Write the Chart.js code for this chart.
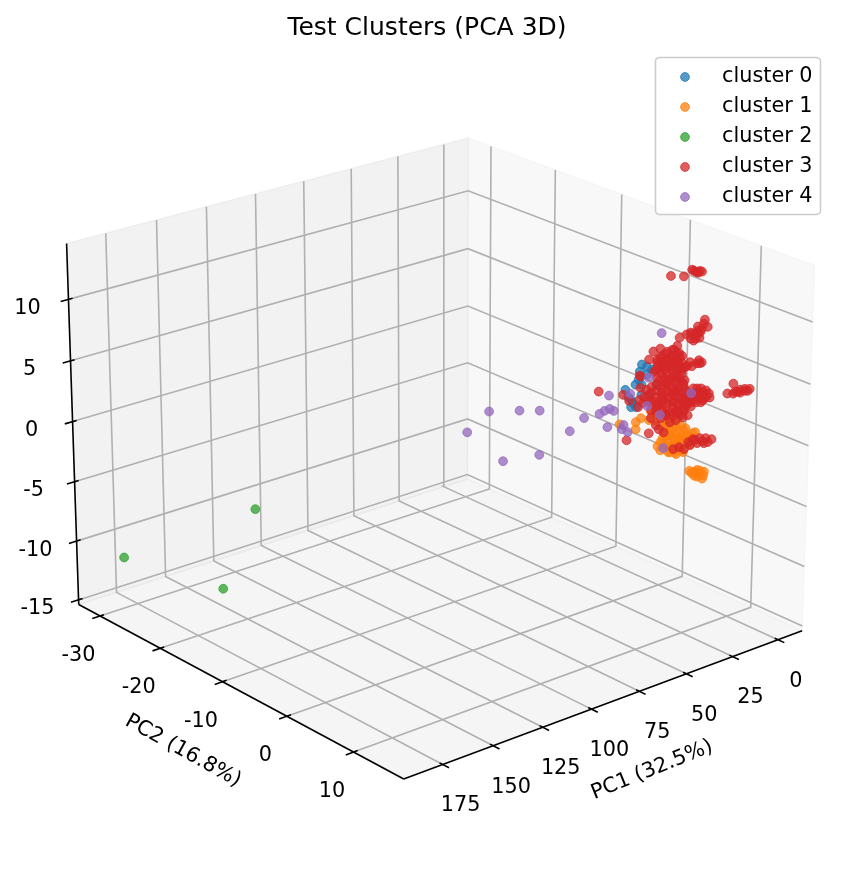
<!DOCTYPE html>
<html>
<head>
<meta charset="utf-8">
<title>Test Clusters (PCA 3D)</title>
<script src="https://cdn.jsdelivr.net/npm/chart.js@4/dist/chart.umd.min.js"></script>
<style>
  html, body { margin: 0; padding: 0; background: #ffffff; }
  canvas { display: block; }
</style>
</head>
<body>
<canvas id="pcaChart" width="846" height="870"></canvas>
<script>
// --- Data as [PC1, PC2, PC3] ---
// depth along the view can't be read from a flat picture, so PC2 is a best guess
const clusterNames = ['cluster 0', 'cluster 1', 'cluster 2', 'cluster 3', 'cluster 4'];
const clusterColors = ['31, 119, 180', '255, 127, 14', '44, 160, 44', '214, 39, 40', '148, 103, 189'];

const pc1Ticks = [0, 25, 50, 75, 100, 125, 150, 175];
const pc2Ticks = [-30, -20, -10, 0, 10];
const pc3Ticks = [-15, -10, -5, 0, 5, 10];

const pc1Limits = [-13.5, 194];
const pc2Limits = [-33.6, 17.3];
const pc3Limits = [-15.4, 14.5];

const cluster0 = [
    [49.2, 10, 7.88], [50.8, 10, 6.74], [50.3, 10, 7.36], [46.5, 10, 6.94], [43.9, 10, 7.21],
    [57.7, 10, 6.27], [56.1, 10, 5.62], [54.5, 10, 4.73], [51.9, 10, 4.60], [53.5, 10, 5.01],
    [49.2, 10, 5.45], [41.2, 10, 5.86], [49.2, 10, 6.26], [44.9, 10, 5.24], [54.5, 10, 5.30],
    [46.5, 10, 7.59], [52.4, 10, 6.42]
];

const cluster1 = [
    [40.1, 10, 3.94], [38.6, 10, 3.94], [37.0, 10, 3.46], [49.2, 10, 3.58], [51.9, 10, 3.39],
    [51.9, 10, 2.82], [60.4, 10, 3.64], [29.5, 10, 2.60], [27.9, 10, 1.96], [31.6, 10, 1.90],
    [27.9, 10, 1.31], [33.2, 10, 1.41], [29.5, 10, 0.82], [34.8, 10, 1.09], [38.6, 10, 1.10],
    [40.1, 10, 0.86], [26.3, 10, 0.50], [21.5, 10, 0.99], [24.2, 10, 0.80], [30.6, 10, -0.10],
    [34.3, 10, 0.49], [27.9, 10, 0.10], [38.6, 10, 3.13], [33.2, 10, 2.47], [35.9, 10, 2.19],
    [30.6, 10, 1.36], [22.6, 10, 0.15], [35.9, 10, 1.54], [35.9, 10, 2.35], [33.2, 10, 1.82],
    [30.6, 10, 2.09], [27.9, 10, 0.75], [32.2, 10, 0.55], [35.9, 10, 0.73], [30.6, 10, 0.47],
    [25.2, 10, 0.93], [38.6, 10, 3.70], [43.9, 10, 3.81], [34.3, 10, 2.84], [41.2, 10, 3.42],
    [27.9, 10, -0.07], [33.2, 10, 0.03], [44.9, 10, 3.21], [25.2, 10, 1.58], [29.0, 10, 0.96],
    [32.2, 10, 1.12], [37.5, 10, 1.38], [26.3, 10, 1.48], [30.0, 10, 2.87], [38.6, 10, 2.48],
    [42.3, 10, 3.08], [38.6, 10, 0.45], [34.3, 10, 0.08], [30.0, 10, -0.29], [26.3, 10, -0.31],
    [22.6, 10, 0.80], [19.9, 10, 0.99],
    [21.5, 10, -2.25], [18.3, 10, -2.17], [14.6, 10, -2.51], [19.9, 10, -2.57], [15.6, 10, -3.03],
    [17.3, 10, -2.62], [18.8, 10, -2.38], [22.6, 10, -2.04], [15.1, 10, -2.81], [20.4, 10, -2.22],
    [16.7, 10, -2.33], [18.3, 10, -2.73]
];

const cluster2 = [
    [187.0, -28, -10.3], [160.8, -15, -4.32], [177.4, -15, -10.0]
];

const cluster3 = [
    [34.8, 10, 14.24], [27.9, 10, 13.90], [23.6, 10, 14.24], [22.6, 10, 14.11], [21.0, 10, 13.95],
    [19.4, 10, 13.95], [20.4, 10, 13.85], [21.5, 10, 13.98], [18.3, 10, 13.85],
    [16.1, 10, 9.92], [14.5, 10, 9.27], [17.7, 10, 9.27], [19.8, 10, 9.22], [20.9, 10, 8.62],
    [25.7, 10, 9.18], [22.5, 10, 9.10], [19.3, 10, 8.94], [22.0, 10, 8.51], [18.8, 10, 8.59],
    [16.6, 10, 9.62], [19.8, 10, 9.54], [23.6, 10, 8.75], [20.9, 10, 9.02], [18.3, 10, 9.06],
    [23.6, 10, 9.23],
    [29.5, 10, 9.09], [43.3, 10, 8.64], [39.6, 10, 8.70], [35.9, 10, 8.27], [30.6, 10, 8.50],
    [33.2, 10, 8.30], [29.5, 10, 7.87], [34.8, 10, 7.74], [37.5, 10, 7.46], [41.2, 10, 7.64],
    [31.6, 10, 7.25], [27.9, 10, 6.99], [26.3, 10, 6.59], [34.3, 10, 6.98], [39.6, 10, 6.99],
    [30.6, 10, 6.55], [23.6, 10, 6.85], [19.9, 10, 6.59], [17.3, 10, 6.54], [18.3, 10, 6.51],
    [45.5, 10, 8.10], [50.3, 10, 7.04], [38.6, 10, 8.08], [33.2, 10, 7.82], [27.9, 10, 7.56],
    [41.2, 10, 7.88], [35.9, 10, 7.62], [30.6, 10, 7.36], [38.6, 10, 7.27], [33.2, 10, 7.01],
    [27.9, 10, 6.59], [22.6, 10, 6.48], [42.8, 10, 6.99], [35.9, 10, 6.49], [41.2, 10, 6.42],
    [35.9, 10, 5.84], [30.6, 10, 6.07], [26.3, 10, 5.53], [39.6, 10, 6.18], [18.8, 10, 6.78],
    [32.2, 10, 8.25], [37.0, 10, 8.16], [30.6, 10, 7.85], [39.6, 10, 7.97], [32.2, 10, 7.61],
    [29.0, 10, 7.45], [38.6, 10, 7.59], [34.3, 10, 7.38], [30.0, 10, 7.17], [40.7, 10, 7.38],
    [35.9, 10, 7.14], [30.6, 10, 6.88], [25.2, 10, 6.61], [41.7, 10, 7.10], [37.0, 10, 6.86],
    [33.2, 10, 6.68], [27.9, 10, 6.42], [38.6, 10, 6.62], [32.2, 10, 6.31], [27.9, 10, 6.10],
    [37.0, 10, 6.21], [33.2, 10, 6.03], [29.0, 10, 5.82],
    [34.8, 10, 5.95], [31.6, 10, 5.79], [27.9, 10, 5.45], [38.6, 10, 5.73], [34.3, 10, 5.35],
    [29.5, 10, 5.03], [43.9, 10, 5.83], [45.5, 10, 5.27], [41.2, 10, 4.88], [37.0, 10, 4.84],
    [32.2, 10, 4.61], [27.9, 10, 4.23], [23.6, 10, 3.93], [18.8, 10, 3.78], [14.6, 10, 3.57],
    [16.2, 10, 3.41], [19.9, 10, 3.43], [24.2, 10, 3.56], [29.5, 10, 3.82], [34.8, 10, 4.09],
    [40.1, 10, 4.18], [45.5, 10, 4.70], [50.3, 10, 5.09], [50.8, 10, 4.55], [18.3, 10, 4.16],
    [46.5, 10, 5.72], [41.2, 10, 5.45], [35.9, 10, 5.11], [30.6, 10, 4.85], [25.2, 10, 4.58],
    [21.5, 10, 4.24], [15.7, 10, 4.03], [12.5, 10, 3.46], [48.1, 10, 4.75], [42.8, 10, 4.64],
    [37.5, 10, 4.46], [32.2, 10, 4.12], [26.8, 10, 3.93], [21.5, 10, 3.67], [43.9, 10, 3.97],
    [32.2, 10, 3.55], [26.8, 10, 3.28], [22.6, 10, 3.23],
    [41.2, 10, 5.94], [35.9, 10, 5.68], [30.6, 10, 5.42], [26.8, 10, 5.23], [38.6, 10, 5.48],
    [32.2, 10, 5.17], [26.3, 10, 4.88], [21.5, 10, 4.64], [17.3, 10, 4.43], [43.9, 10, 5.35],
    [38.6, 10, 5.08], [33.2, 10, 4.82], [27.9, 10, 4.56], [23.6, 10, 4.34], [17.3, 10, 4.03],
    [47.6, 10, 5.20], [38.6, 10, 4.75], [34.3, 10, 4.54], [30.0, 10, 4.33], [25.8, 10, 4.12],
    [21.5, 10, 3.91], [16.7, 10, 3.67], [43.9, 10, 4.62], [38.6, 10, 4.35], [32.2, 10, 4.04],
    [26.8, 10, 3.77], [22.6, 10, 3.56], [17.3, 10, 3.30], [41.2, 10, 4.15], [35.9, 10, 3.89],
    [29.0, 10, 3.55], [25.2, 10, 3.36], [41.2, 10, 3.75], [37.5, 10, 3.57], [30.6, 10, 3.23],
    [26.3, 10, 3.02], [35.9, 10, 3.16], [32.2, 10, 2.98], [27.9, 10, 2.77],
    [14.6, 10, 4.14], [13.0, 10, 3.82], [15.7, 10, 3.54], [19.4, 10, 4.13], [19.4, 10, 4.53],
    [71.6, 10, 6.80], [58.8, 10, 5.92], [55.6, 10, 5.28], [49.7, 10, 6.04], [49.7, 10, 6.94],
    [-0.3, 10, 3.97], [2.9, 10, 3.32], [-0.3, 10, 3.16], [-4.1, 10, 3.05], [-6.7, 10, 3.08],
    [-9.4, 10, 3.11], [-8.3, 10, 3.00], [-3.0, 10, 3.19], [-6.7, 10, 3.24], [-4.1, 10, 3.29],
    [-1.4, 10, 3.26],
    [43.9, 10, 3.32], [41.2, 10, 2.61], [39.6, 10, 2.21], [37.0, 10, 1.83], [44.9, 10, 2.15],
    [56.6, 10, 2.17], [38.6, 10, 3.05], [33.8, 10, 2.49], [30.6, 10, 2.50], [26.8, 10, 2.55],
    [24.2, 10, 2.58], [33.2, 10, 3.28], [29.5, 10, 3.09], [35.9, 10, 3.24],
    [31.6, 10, 0.20], [28.4, 10, 0.20], [25.8, 10, -0.09], [23.6, 10, 0.36], [21.0, 10, 0.48],
    [17.3, 10, 0.38], [18.8, 10, 0.05], [15.1, 10, -0.14], [13.0, 10, -0.16], [10.9, 10, -0.02],
    [14.1, 10, 0.22], [16.2, 10, 0.08], [19.9, 10, 0.35], [22.6, 10, 0.07]
];

const cluster4 = [
    [138.0, 10, 6.85], [127.2, 10, 7.94], [112.0, 10, 7.26], [101.8, 10, 6.76], [120.1, 10, 3.69],
    [101.8, 10, 3.27], [86.3, 10, 4.37], [79.0, 10, 5.06], [71.0, 10, 4.99], [68.4, 10, 5.11],
    [65.7, 10, 5.13], [63.6, 10, 4.87], [66.8, 10, 3.73], [66.2, 10, 6.22], [55.1, 10, 5.83],
    [58.3, 10, 3.48], [59.3, 10, 3.20], [56.1, 10, 2.80], [46.0, 10, 4.41], [39.1, 10, 3.34],
    [22.6, 10, 4.30], [37.0, 10, 0.55], [45.5, 10, 6.65], [39.1, 10, 9.91]
];

const clusters = [cluster0, cluster1, cluster2, cluster3, cluster4];

// --- 3D view (elev 22, azim 50), turned into positions on the flat scales ---
const MARKER_R = 4.4;
const EDGE = MARKER_R + 1; // Chart.js insets the chart area by the biggest point
const sinE = Math.sin(22 * Math.PI / 180), cosE = Math.cos(22 * Math.PI / 180);
const sinA = Math.sin(50 * Math.PI / 180), cosA = Math.cos(50 * Math.PI / 180);
const boxXY = 1.1905, boxZ = 0.8929;

function norm(value, limits, size) {
    return size * ((value - limits[0]) / (limits[1] - limits[0]) - 0.5);
}

function project(pc1, pc2, pc3) {
    const cx = norm(pc1, pc1Limits, boxXY);
    const cy = norm(pc2, pc2Limits, boxXY);
    const cz = norm(pc3, pc3Limits, boxZ);
    const xe = -sinA * cx + cosA * cy;
    const ye = -sinE * cosA * cx - sinE * sinA * cy + cosE * cz;
    const d = 10 - (cosE * cosA * cx + cosE * sinA * cy + sinE * cz);
    return { x: 438 + 4385 * xe / d, y: 439 - 4385 * ye / d };
}

const [x0, x1] = pc1Limits, [y0, y1] = pc2Limits, [z0, z1] = pc3Limits;

function path(points) {
    return points.map(p => project(p[0], p[1], p[2]));
}

const datasets = [];

function addPane(points, color) {
    datasets.push({
        data: path(points), showLine: true, fill: 'shape', backgroundColor: color,
        borderColor: color, borderWidth: 1.5, pointRadius: 0, order: 30
    });
}

function addLine(points, color, width, order) {
    datasets.push({
        data: path(points), showLine: true, fill: false, borderColor: color,
        borderWidth: width, pointRadius: 0, order: order
    });
}

addPane([[x0, y0, z0], [x1, y0, z0], [x1, y0, z1], [x0, y0, z1], [x0, y0, z0]], 'rgba(230, 230, 230, 0.5)');
addPane([[x0, y0, z0], [x0, y1, z0], [x0, y1, z1], [x0, y0, z1], [x0, y0, z0]], 'rgba(242, 242, 242, 0.5)');
addPane([[x0, y0, z0], [x1, y0, z0], [x1, y1, z0], [x0, y1, z0], [x0, y0, z0]], 'rgba(236, 236, 236, 0.5)');

const GRID = '#b0b0b0';
pc1Ticks.forEach(v => {
    addLine([[v, y1, z0], [v, y0, z0], [v, y0, z1]], GRID, 1.6, 20);
    addLine([[v, y1 - 0.45, z0], [v, y1 + 0.9, z0]], '#000000', 1.6, 15);
});
pc2Ticks.forEach(v => {
    addLine([[x1, v, z0], [x0, v, z0], [x0, v, z1]], GRID, 1.6, 20);
    addLine([[x1 - 2, v, z0], [x1 + 3.8, v, z0]], '#000000', 1.6, 15);
});
pc3Ticks.forEach(v => {
    addLine([[x1, y0, v], [x0, y0, v], [x0, y1, v]], GRID, 1.6, 20);
    addLine([[x1 - 2, y0, v], [x1 + 3.8, y0, v]], '#000000', 1.6, 15);
});

addLine([[x0, y1, z0], [x1, y1, z0]], '#000000', 1.6, 15);
addLine([[x1, y0, z0], [x1, y1, z0]], '#000000', 1.6, 15);
addLine([[x1, y0, z0], [x1, y0, z1]], '#000000', 1.6, 15);

clusters.forEach((points, i) => {
    datasets.push({
        label: clusterNames[i],
        data: path(points),
        showLine: false,
        pointRadius: MARKER_R,
        pointBorderWidth: 1,
        pointBackgroundColor: `rgba(${clusterColors[i]}, 0.75)`,
        pointBorderColor: `rgba(${clusterColors[i]}, 0.75)`,
        order: 4 - i
    });
});

// --- Title, axis text and legend box, Chart.js has no 3D axes of its own ---
const FONT = '"DejaVu Sans", sans-serif';

function drawText(ctx, text, x, y, angle) {
    ctx.save();
    ctx.translate(x, y);
    ctx.rotate((angle || 0) * Math.PI / 180);
    ctx.fillText(text, 0, 0);
    ctx.restore();
}

const axisText = {
    id: 'axisText',
    afterDatasetsDraw(chart) {
        const ctx = chart.ctx;
        const sx = chart.scales.x, sy = chart.scales.y;
        const place = (p, dx, dy) => [sx.getPixelForValue(p.x) + dx, sy.getPixelForValue(p.y) + dy];
        ctx.save();
        ctx.fillStyle = '#000000';
        ctx.textAlign = 'center';
        ctx.textBaseline = 'middle';
        ctx.font = '25px ' + FONT;
        drawText(ctx, 'Test Clusters (PCA 3D)', 427, 28);
        ctx.font = '20.8px ' + FONT;
        pc1Ticks.forEach(v => {
            const [x, y] = place(project(v, y1, z0), 18, 41.5);
            drawText(ctx, String(v), x, y);
        });
        pc2Ticks.forEach(v => {
            const [x, y] = place(project(x1, v, z0), -21.5, 39.5);
            drawText(ctx, String(v), x, y);
        });
        pc3Ticks.forEach(v => {
            const [x, y] = place(project(x1, y0, v), -41, 9);
            drawText(ctx, String(v), x, y);
        });
        drawText(ctx, 'PC1 (32.5%)', 652, 770, -22);
        drawText(ctx, 'PC2 (16.8%)', 183, 751, 29);
        ctx.restore();
    },
    afterDraw(chart) {
        const ctx = chart.ctx;
        ctx.save();
        ctx.beginPath();
        ctx.roundRect(655.5, 57.5, 165, 157, 4);
        ctx.fillStyle = 'rgba(255, 255, 255, 0.8)';
        ctx.fill();
        ctx.strokeStyle = '#cccccc';
        ctx.lineWidth = 1.6;
        ctx.stroke();
        ctx.font = '20.8px ' + FONT;
        ctx.textAlign = 'left';
        ctx.textBaseline = 'alphabetic';
        clusterNames.forEach((name, i) => {
            const y = 77 + i * 30;
            ctx.beginPath();
            ctx.arc(685, y, MARKER_R, 0, Math.PI * 2);
            ctx.fillStyle = `rgba(${clusterColors[i]}, 0.75)`;
            ctx.strokeStyle = `rgba(${clusterColors[i]}, 0.75)`;
            ctx.lineWidth = 1;
            ctx.fill();
            ctx.stroke();
            ctx.fillStyle = '#000000';
            ctx.fillText(name, 722, y + 4.5);
        });
        ctx.restore();
    }
};

new Chart(document.getElementById('pcaChart').getContext('2d'), {
    type: 'scatter',
    data: { datasets: datasets },
    plugins: [axisText],
    options: {
        responsive: false,
        animation: false,
        events: [],
        layout: { padding: 0 },
        plugins: {
            legend: { display: false },
            tooltip: { enabled: false }
        },
        scales: {
            x: { display: false, min: EDGE, max: 846 - EDGE },
            y: { display: false, min: EDGE, max: 870 - EDGE, reverse: true }
        }
    }
});
</script>
</body>
</html>
